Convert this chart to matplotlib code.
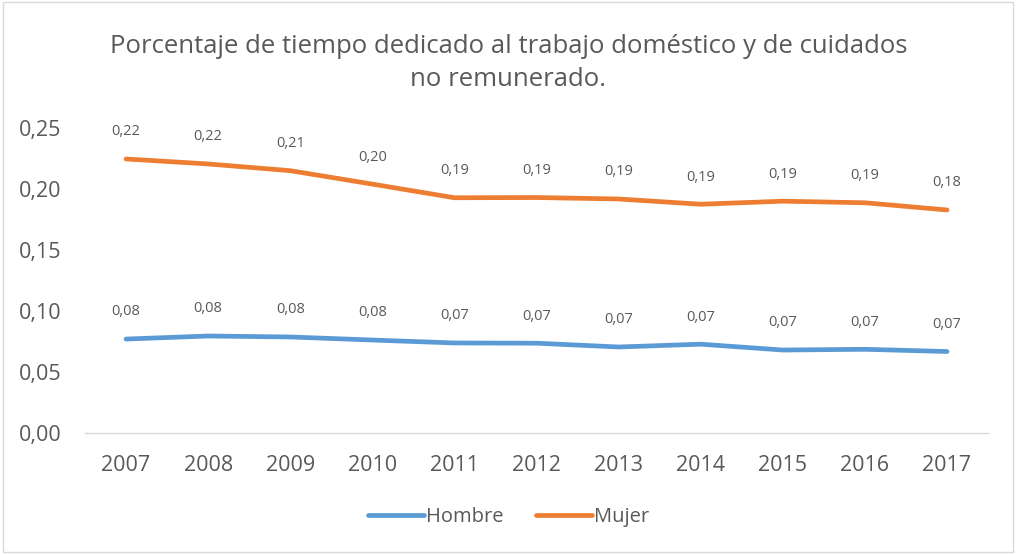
import matplotlib
matplotlib.use("Agg")
import matplotlib.pyplot as plt
from matplotlib.patches import Rectangle

years = ["2007", "2008", "2009", "2010", "2011", "2012", "2013", "2014", "2015", "2016", "2017"]
hombre = [0.077, 0.0795, 0.0787, 0.0762, 0.0738, 0.0736, 0.0705, 0.0728, 0.0680, 0.0686, 0.0668]
mujer = [0.2246, 0.2205, 0.2150, 0.2040, 0.1928, 0.1930, 0.1918, 0.1875, 0.1900, 0.1887, 0.1828]

plt.rcParams['font.family'] = ['Open Sans', 'DejaVu Sans']
gris = "#595959"

fig = plt.figure(figsize=(10.17, 5.54), dpi=100)
ax = fig.add_axes([0.0836, 0.2184, 0.8879, 0.5506])

x = list(range(len(years)))
ax.plot(x, hombre, color="#5B9BD5", lw=3.4, solid_capstyle="round", solid_joinstyle="round", label="Hombre")
ax.plot(x, mujer, color="#ED7D31", lw=3.4, solid_capstyle="round", solid_joinstyle="round", label="Mujer")

for serie in (hombre, mujer):
    for i, v in enumerate(serie):
        ax.annotate(f"{v:.2f}".replace(".", ","), (i, v), xytext=(0, 19.5), textcoords="offset points",
                    ha="center", va="center", fontsize=10.5, color=gris)

ax.set_xlim(-0.5, len(years) - 0.5)
ax.set_ylim(0, 0.25)
ax.set_yticks([0, 0.05, 0.10, 0.15, 0.20, 0.25])
ax.set_yticklabels([f"{t:.2f}".replace(".", ",") for t in ax.get_yticks()])
ax.set_xticks(x)
ax.set_xticklabels(years)
ax.tick_params(length=0, labelsize=15.5, colors=gris)
ax.tick_params(axis="x", pad=16)
ax.tick_params(axis="y", pad=17)
for s in ("top", "right", "left"):
    ax.spines[s].set_visible(False)
ax.spines["bottom"].set_color("#D9D9D9")
ax.spines["bottom"].set_linewidth(1)

fig.text(0.5, 0.886, "Porcentaje de tiempo dedicado al trabajo doméstico y de cuidados\nno remunerado.",
         ha="center", va="center", fontsize=18.5, color=gris, linespacing=1.4)

leg = fig.legend(loc="center", bbox_to_anchor=(0.5, 0.066), ncol=2, frameon=False, fontsize=14.5,
                 handlelength=2.8, handletextpad=0.1, columnspacing=1.6)
for t in leg.get_texts():
    t.set_color(gris)

fig.patches.append(Rectangle((0.003, 0.004), 0.993, 0.992, transform=fig.transFigure,
                             fill=False, edgecolor="#D9D9D9", lw=1))

fig.savefig("out.png", dpi=100, facecolor="white")
